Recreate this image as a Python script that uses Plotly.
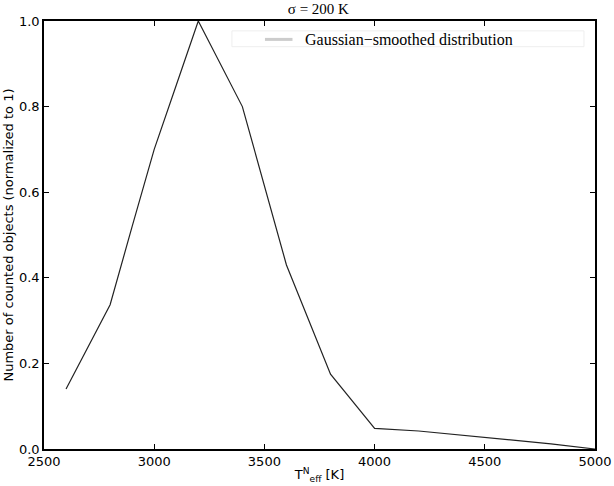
import plotly.graph_objects as go

# effective temperature grid [K] and normalized counts
teff = [2600, 2800, 2900, 3000, 3100, 3200, 3400, 3600, 3800, 4000, 4200, 4400, 4600, 4800, 5000]
counts = [0.14, 0.337, 0.52, 0.70, 0.85, 1.0, 0.80, 0.43, 0.175, 0.048, 0.042, 0.032, 0.022, 0.012, 0.0]

x_ticks = [2500, 3000, 3500, 4000, 4500, 5000]
y_ticks = [0.0, 0.2, 0.4, 0.6, 0.8, 1.0]
legend_label = "Gaussian\u2212smoothed distribution"

fig = go.Figure()

fig.add_trace(go.Scatter(
    x=teff, y=counts, mode="lines",
    line=dict(color="#222222", width=1.2),
    showlegend=False,
))

# hand-drawn legend box (matplotlib style, padded)
fig.add_shape(type="rect", xref="paper", yref="paper",
              x0=0.341, x1=0.980, y0=0.940, y1=0.977,
              line=dict(color="#eeeeee", width=1), fillcolor="white")
fig.add_shape(type="line", xref="paper", yref="paper",
              x0=0.401, x1=0.451, y0=0.957, y1=0.957,
              line=dict(color="#cccccc", width=3))
fig.add_annotation(text=legend_label, xref="paper", yref="paper",
                   x=0.4695, y=0.957, xanchor="left", yanchor="middle",
                   showarrow=False,
                   font=dict(family="Liberation Serif", size=16, color="black"))

axis_common = dict(
    showline=True, linecolor="black", linewidth=1.5, mirror="ticks",
    ticks="inside", ticklen=5, tickcolor="black",
    showgrid=False, zeroline=False, automargin=False,
    ticklabeloverflow="allow",
    tickfont=dict(family="DejaVu Sans", size=13, color="black"),
)

fig.update_layout(
    width=614, height=486,
    margin=dict(l=44, r=19, t=21, b=37),
    paper_bgcolor="white", plot_bgcolor="white",
    showlegend=False,
    title=dict(
        text="\u03c3 = 200 K", xref="paper", x=0.498, xanchor="center",
        yref="container", y=0.982, yanchor="middle",
        font=dict(family="Liberation Serif", size=15, color="black"),
    ),
    xaxis=dict(
        range=[2500, 5000], tickvals=x_ticks, ticktext=[str(v) for v in x_ticks],
        title=dict(text="T<sup>N</sup><sub>eff</sub> [K]", standoff=2,
                   font=dict(family="DejaVu Sans", size=13, color="black")),
        **axis_common,
    ),
    yaxis=dict(
        range=[0, 1], tickvals=y_ticks, ticktext=[f"{v:.1f}" for v in y_ticks],
        title=dict(text="Number of counted objects (normalized to 1)", standoff=2,
                   font=dict(family="DejaVu Sans", size=13, color="black")),
        **axis_common,
    ),
)

# drop the default body margin so the figure sits at the window's corner
fig.write_html("out.html", config={"displayModeBar": False},
               post_script="document.body.style.margin='0';")
